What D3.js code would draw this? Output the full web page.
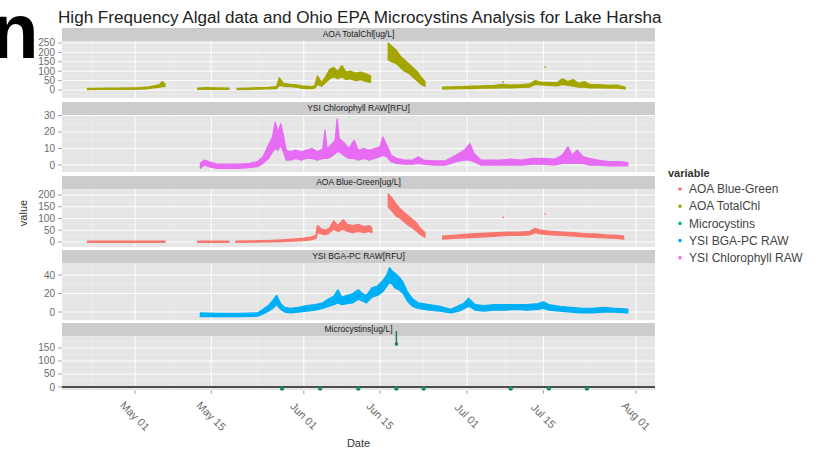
<!DOCTYPE html>
<html>
<head>
<meta charset="utf-8">
<script src="https://cdn.jsdelivr.net/npm/d3@7"></script>
<style>
  body { margin: 0; background: #fff; }
  text { font-family: "Liberation Sans", Arial, sans-serif; }
</style>
</head>
<body>
<svg id="chart"></svg>
<script>
// ----- Data -----
// each entry: [date, low, high] of the dense sensor band, null = gap in the record
let totalChl = [
  ['04-22 06', 2, 8], ['04-24 00', 3, 9], ['04-26 00', 3, 10], ['04-28 00', 4, 10], ['04-30 00', 4, 11],
  ['05-02 00', 5, 12], ['05-03 12', 8, 16], ['05-04 12', 12, 22], ['05-05 12', 15, 28], ['05-06 00', 18, 45],
  ['05-06 12', 20, 32], null,
  ['05-12 12', 3, 10], ['05-14 00', 4, 12], ['05-16 00', 3, 11], ['05-18 06', 4, 10], null,
  ['05-19 18', 2, 9], ['05-21 12', 3, 10], ['05-23 12', 5, 12], ['05-25 12', 6, 14], ['05-27 00', 8, 18],
  ['05-27 12', 25, 65], ['05-28 06', 20, 35], ['05-29 12', 18, 30], ['05-30 12', 15, 28], ['05-31 12', 10, 22],
  ['06-01 12', 8, 20], ['06-02 12', 8, 18], ['06-03 00', 10, 22], ['06-03 12', 30, 75], ['06-04 06', 20, 40],
  ['06-05 00', 40, 70], ['06-05 18', 60, 110], ['06-06 12', 70, 120], ['06-07 06', 60, 100], ['06-08 00', 70, 130],
  ['06-08 18', 55, 95], ['06-09 12', 60, 100], ['06-10 12', 50, 90], ['06-11 12', 55, 95], ['06-12 12', 45, 85],
  ['06-13 06', 40, 75], null,
  ['06-16 12', 160, 250], ['06-17 06', 150, 230], ['06-18 00', 140, 210], ['06-18 18', 120, 180], ['06-19 12', 100, 160],
  ['06-20 06', 90, 140], ['06-21 00', 70, 120], ['06-21 18', 50, 100], ['06-22 12', 30, 70], ['06-23 06', 20, 45], null,
  ['06-26 12', 5, 15], ['06-28 00', 6, 16], ['06-30 00', 7, 18], ['07-02 00', 8, 20], ['07-04 00', 10, 22],
  ['07-06 00', 10, 24], ['07-07 12', 12, 30], ['07-09 00', 12, 26], ['07-11 00', 14, 28], ['07-12 12', 16, 32],
  ['07-13 12', 30, 50], ['07-14 12', 28, 42], ['07-16 00', 25, 40], ['07-17 12', 22, 38], ['07-18 12', 30, 60],
  ['07-19 12', 25, 45], ['07-20 12', 20, 55], ['07-21 12', 15, 35], ['07-22 12', 15, 45], ['07-23 12', 12, 30],
  ['07-25 00', 12, 28], ['07-27 00', 10, 25], ['07-28 12', 12, 26], ['07-30 00', 5, 15]
]
let totalChlOutliers = [['07-07 14', 43], ['07-15 08', 122]]

let chlorophyll = [
  ['05-13 00', -2, 1], ['05-13 18', 0, 3], ['05-14 12', -1, 2], ['05-16 00', -2, 0.5], ['05-18 00', -2, 0.5],
  ['05-20 00', -2, 0.5], ['05-22 00', -1.5, 1], ['05-23 12', -1, 2], ['05-24 12', 1, 5], ['05-25 12', 4, 12],
  ['05-26 06', 8, 17], ['05-26 18', 10, 26], ['05-27 06', 9, 20], ['05-27 18', 12, 25], ['05-28 06', 8, 18],
  ['05-28 18', 3, 9], ['05-29 12', 3, 8], ['05-30 12', 4, 9], ['05-31 12', 3, 8], ['06-01 12', 4, 9],
  ['06-02 12', 4, 10], ['06-03 12', 3, 8], ['06-04 12', 4, 10], ['06-04 21', 4, 21], ['06-05 06', 4, 10],
  ['06-06 00', 5, 12], ['06-06 18', 7, 15], ['06-07 03', 8, 28], ['06-07 12', 8, 16], ['06-08 06', 6, 14],
  ['06-09 06', 4, 10], ['06-10 06', 4, 15], ['06-11 00', 3, 9], ['06-12 00', 4, 10], ['06-13 00', 3, 9],
  ['06-14 00', 4, 10], ['06-15 00', 5, 11], ['06-15 12', 6, 17], ['06-16 06', 5, 12], ['06-17 00', 2, 6],
  ['06-18 00', 1, 4], ['06-19 12', 0.5, 3], ['06-21 00', 0.5, 3], ['06-22 00', 1, 5], ['06-23 00', 0.5, 3],
  ['06-25 00', 0, 2.5], ['06-27 00', 0, 2.5], ['06-29 00', 2, 6], ['06-30 12', 3, 9], ['07-01 12', 3, 13],
  ['07-02 06', 2, 7], ['07-03 12', 0, 3], ['07-05 00', 0, 3], ['07-07 00', 0, 3], ['07-09 00', 0, 3.5],
  ['07-11 00', 0, 3], ['07-13 00', 0.5, 4], ['07-15 00', 0.5, 4], ['07-17 00', 0, 3.5], ['07-18 12', 1, 6],
  ['07-19 12', 1, 11], ['07-20 06', 1, 6], ['07-21 06', 1, 9], ['07-22 06', 1, 5], ['07-23 12', 0, 4],
  ['07-25 00', 0, 3], ['07-27 00', -0.5, 2], ['07-29 00', -0.5, 2], ['07-30 12', -0.5, 1.5]
]

let blueGreen = [
  ['04-22 06', -1, 4], ['04-26 00', -1, 4], ['04-30 00', -1, 4], ['05-04 00', -1, 4], ['05-06 12', -1, 4], null,
  ['05-12 12', -1, 4], ['05-15 00', -1, 4], ['05-18 06', -1, 4], null,
  ['05-19 12', -1, 4], ['05-23 00', 0, 5], ['05-26 00', 1, 7], ['05-28 00', 2, 9], ['05-30 00', 4, 12],
  ['06-01 00', 6, 16], ['06-02 12', 10, 22], ['06-03 06', 15, 28], ['06-03 12', 40, 70], ['06-04 06', 35, 55],
  ['06-05 00', 30, 50], ['06-05 18', 40, 60], ['06-06 12', 55, 90], ['06-07 06', 45, 70], ['06-08 06', 55, 95],
  ['06-09 00', 45, 75], ['06-10 00', 40, 70], ['06-11 00', 45, 75], ['06-12 00', 40, 65], ['06-13 00', 45, 70],
  ['06-13 12', 40, 60], null,
  ['06-16 12', 150, 205], ['06-17 06', 130, 185], ['06-18 00', 110, 160], ['06-18 18', 100, 140], ['06-19 12', 85, 125],
  ['06-20 06', 70, 110], ['06-21 00', 60, 95], ['06-21 18', 45, 80], ['06-22 12', 30, 55], ['06-23 06', 20, 40], null,
  ['06-26 12', 12, 25], ['06-28 12', 15, 28], ['06-30 12', 18, 32], ['07-02 12', 20, 35], ['07-04 12', 22, 38],
  ['07-06 12', 25, 40], ['07-08 12', 28, 42], ['07-10 12', 28, 42], ['07-12 12', 30, 45], ['07-13 12', 40, 58],
  ['07-14 12', 35, 50], ['07-16 12', 30, 45], ['07-18 12', 28, 42], ['07-20 12', 25, 40], ['07-22 12', 22, 36],
  ['07-24 12', 20, 34], ['07-26 12', 18, 30], ['07-28 12', 15, 28], ['07-29 18', 12, 25]
]
let blueGreenOutliers = [['07-07 14', 105], ['07-15 08', 120]]

let bgaPc = [
  ['05-13 00', -5, -1], ['05-16 00', -5, -1.5], ['05-20 00', -5, -1.5], ['05-23 12', -4.5, -1], ['05-24 12', -2, 3],
  ['05-25 12', 1, 7], ['05-26 12', 5, 14], ['05-27 00', 8, 18], ['05-27 18', 3, 9], ['05-28 12', 0, 5],
  ['05-29 12', -1, 4], ['05-31 00', 0, 5], ['06-01 12', 1, 7], ['06-03 00', 2, 8], ['06-04 12', 4, 10],
  ['06-05 12', 6, 14], ['06-06 12', 8, 17], ['06-07 06', 10, 24], ['06-08 00', 8, 16], ['06-09 00', 9, 18],
  ['06-10 00', 10, 20], ['06-11 00', 14, 24], ['06-11 18', 12, 20], ['06-12 12', 10, 18], ['06-13 12', 16, 26],
  ['06-14 12', 18, 28], ['06-15 12', 22, 34], ['06-16 06', 28, 40], ['06-16 18', 32, 48], ['06-17 06', 30, 44],
  ['06-17 18', 26, 42], ['06-18 12', 24, 38], ['06-19 06', 20, 32], ['06-20 00', 12, 22], ['06-21 00', 6, 14],
  ['06-22 00', 4, 10], ['06-24 00', 2, 8], ['06-26 00', 1, 6], ['06-28 00', -1, 3], ['06-29 12', 1, 7],
  ['06-30 12', 4, 10], ['07-01 06', 6, 15], ['07-01 18', 5, 12], ['07-02 12', 2, 8], ['07-04 00', 1, 7],
  ['07-06 00', 2, 8], ['07-08 00', 2, 8], ['07-10 00', 3, 8], ['07-12 00', 2, 8], ['07-14 00', 3, 9],
  ['07-15 00', 4, 11], ['07-16 00', 2, 8], ['07-18 00', 1, 6], ['07-20 00', 0, 5], ['07-22 00', -1, 4],
  ['07-24 00', -1, 4], ['07-26 00', 0, 5], ['07-28 00', 0, 4], ['07-30 12', -1, 3]
]

let microcystinDates = ['05-28 00', '06-04 00', '06-11 00', '06-18 00', '06-23 00', '07-09 00', '07-16 00', '07-23 00']
let microcystinValues = [0, 0, 0, 0, 0, 0, 0, 0]
let microcystinHigh = [['06-18 00', 165], ['06-18 00', 215]]

let variables = ['AOA Blue-Green', 'AOA TotalChl', 'Microcystins', 'YSI BGA-PC RAW', 'YSI Chlorophyll RAW']
let varColors = ['#F8766D', '#A3A500', '#00BF7D', '#00B0F6', '#E76BF3']

let xTickDates = ['05-01 00', '05-15 00', '06-01 00', '06-15 00', '07-01 00', '07-15 00', '08-01 00']
let xTickLabels = ['May 01', 'May 15', 'Jun 01', 'Jun 15', 'Jul 01', 'Jul 15', 'Aug 01']
let xMinorDates = ['04-23 00', '05-08 00', '05-23 12', '06-08 00', '06-23 00', '07-08 00', '07-23 12']

let totalChlTicks = [0, 50, 100, 150, 200, 250]
let chlorophyllTicks = [0, 10, 20, 30]
let blueGreenTicks = [0, 50, 100, 150, 200]
let bgaTicks = [0, 20, 40]
let microTicks = [0, 50, 100, 150]

// ----- SVG -----
let svgWidth = 816
let svgHeight = 451
let svg = d3.select('#chart')
            .attr('width', svgWidth)
            .attr('height', svgHeight)

let parseDate = function (s) { return d3.timeParse('%Y-%m-%d %H')('2014-' + s) }

let panelLeft = 62
let panelRight = 655
let x = d3.scaleTime()
          .domain([parseDate('04-17 14'), parseDate('08-04 12')])
          .range([panelLeft, panelRight])

// facets, top to bottom
let facets = [
  {label: 'AOA TotalChl[ug/L]', band: totalChl, color: varColors[1], ticks: totalChlTicks, strip: 28, top: 41, bottom: 98, domain: [-42.6, 260.6]},
  {label: 'YSI Chlorophyll RAW[RFU]', band: chlorophyll, color: varColors[4], ticks: chlorophyllTicks, strip: 102, top: 115, bottom: 172, domain: [-4.24, 30.3]},
  {label: 'AOA Blue-Green[ug/L]', band: blueGreen, color: varColors[0], ticks: blueGreenTicks, strip: 176, top: 189, bottom: 247, domain: [-21.3, 225.5]},
  {label: 'YSI BGA-PC RAW[RFU]', band: bgaPc, color: varColors[3], ticks: bgaTicks, strip: 250, top: 263, bottom: 320, domain: [-8.6, 53]},
  {label: 'Microcystins[ug/L]', band: null, color: varColors[2], ticks: microTicks, strip: 323, top: 336, bottom: 390, domain: [-11.5, 196]}
]

let defs = svg.append('defs')

facets.forEach(function (f, i) {
  let y = d3.scaleLinear().domain(f.domain).range([f.bottom, f.top])
  f.y = y
  let g = svg.append('g')

  // panel background
  g.append('rect')
   .attr('x', panelLeft).attr('y', f.top)
   .attr('width', panelRight - panelLeft).attr('height', f.bottom - f.top)
   .attr('fill', '#E5E5E5')

  // minor grid
  let step = f.ticks[1] - f.ticks[0]
  let minorY = d3.range(f.ticks[0] - step / 2, f.domain[1], step).filter(v => v > f.domain[0] && v < f.domain[1])
  g.selectAll('.minorY').data(minorY).enter().append('line')
   .attr('x1', panelLeft).attr('x2', panelRight)
   .attr('y1', d => y(d)).attr('y2', d => y(d))
   .attr('stroke', '#F2F2F2').attr('stroke-width', 0.5)
  g.selectAll('.minorX').data(xMinorDates).enter().append('line')
   .attr('x1', d => x(parseDate(d))).attr('x2', d => x(parseDate(d)))
   .attr('y1', f.top).attr('y2', f.bottom)
   .attr('stroke', '#F2F2F2').attr('stroke-width', 0.5)

  // major grid
  g.selectAll('.majorY').data(f.ticks).enter().append('line')
   .attr('x1', panelLeft).attr('x2', panelRight)
   .attr('y1', d => y(d)).attr('y2', d => y(d))
   .attr('stroke', '#fff').attr('stroke-width', 1)
  g.selectAll('.majorX').data(xTickDates).enter().append('line')
   .attr('x1', d => x(parseDate(d))).attr('x2', d => x(parseDate(d)))
   .attr('y1', f.top).attr('y2', f.bottom)
   .attr('stroke', '#fff').attr('stroke-width', 1)

  // clip for the data
  defs.append('clipPath').attr('id', 'clip' + i)
      .append('rect')
      .attr('x', panelLeft).attr('y', f.top)
      .attr('width', panelRight - panelLeft).attr('height', f.bottom - f.top)

  if (f.band) {
    let area = d3.area()
                 .defined(d => d !== null)
                 .x(d => x(parseDate(d[0])))
                 .y0(d => y(d[1]))
                 .y1(d => y(d[2]))
    g.append('path')
     .attr('clip-path', 'url(#clip' + i + ')')
     .attr('d', area(f.band))
     .attr('fill', f.color)
     .attr('stroke', f.color)
     .attr('stroke-width', 1.3)
     .attr('stroke-linejoin', 'round')
  }

  // y axis ticks + labels
  g.selectAll('.ytick').data(f.ticks).enter().append('line')
   .attr('x1', panelLeft - 4).attr('x2', panelLeft)
   .attr('y1', d => y(d)).attr('y2', d => y(d))
   .attr('stroke', '#7F7F7F').attr('stroke-width', 0.7)
  g.selectAll('.ylab').data(f.ticks).enter().append('text')
   .attr('x', panelLeft - 7)
   .attr('y', d => y(d))
   .attr('dy', '0.35em')
   .attr('text-anchor', 'end')
   .attr('font-size', '10px')
   .attr('fill', '#6b6b6b')
   .text(d => d)

  // strip
  g.append('rect')
   .attr('x', panelLeft).attr('y', f.strip)
   .attr('width', panelRight - panelLeft).attr('height', f.top - f.strip)
   .attr('fill', '#CCCCCC')
  g.append('text')
   .attr('x', (panelLeft + panelRight) / 2)
   .attr('y', (f.strip + f.top) / 2)
   .attr('dy', '0.35em')
   .attr('text-anchor', 'middle')
   .attr('font-size', '8.5px')
   .attr('fill', '#1a1a1a')
   .text(f.label)
})

// outliers
let fTot = facets[0], fBg = facets[2], fMic = facets[4]
svg.selectAll('.totOut').data(totalChlOutliers).enter().append('circle')
   .attr('cx', d => x(parseDate(d[0]))).attr('cy', d => fTot.y(d[1]))
   .attr('r', 0.9).attr('fill', varColors[1])
svg.selectAll('.bgOut').data(blueGreenOutliers).enter().append('circle')
   .attr('cx', d => x(parseDate(d[0]))).attr('cy', d => fBg.y(d[1]))
   .attr('r', 0.9).attr('fill', varColors[0])

// microcystins: baseline rule, samples, the one high sample
svg.append('line')
   .attr('x1', panelLeft).attr('x2', panelRight)
   .attr('y1', fMic.y(0)).attr('y2', fMic.y(0))
   .attr('stroke', '#4d4d4d').attr('stroke-width', 2)
svg.append('path')
   .attr('d', d3.line().x(d => x(parseDate(d[0]))).y(d => fMic.y(d[1]))(microcystinHigh))
   .attr('stroke', '#1f7a55').attr('stroke-width', 1.5)
svg.append('circle')
   .attr('cx', x(parseDate(microcystinHigh[0][0]))).attr('cy', fMic.y(microcystinHigh[0][1]))
   .attr('r', 1.8).attr('fill', '#1f7a55')
svg.selectAll('.mic').data(microcystinDates).enter().append('circle')
   .attr('cx', d => x(parseDate(d)))
   .attr('cy', (d, i) => fMic.y(microcystinValues[i]) + 1.5)
   .attr('r', 2.2)
   .attr('fill', '#1f8a5e')

// x axis
svg.selectAll('.xtick').data(xTickDates).enter().append('line')
   .attr('x1', d => x(parseDate(d))).attr('x2', d => x(parseDate(d)))
   .attr('y1', fMic.bottom).attr('y2', fMic.bottom + 4)
   .attr('stroke', '#7F7F7F').attr('stroke-width', 0.7)
svg.selectAll('.xlab').data(xTickDates).enter().append('text')
   .attr('transform', d => 'translate(' + x(parseDate(d)) + ',416) rotate(45)')
   .attr('text-anchor', 'middle')
   .attr('dy', '0.35em')
   .attr('font-size', '11px')
   .attr('fill', '#6b6b6b')
   .text((d, i) => xTickLabels[i])

svg.append('text')
   .attr('x', (panelLeft + panelRight) / 2).attr('y', 447)
   .attr('text-anchor', 'middle')
   .attr('font-size', '11px')
   .attr('fill', '#333')
   .text('Date')

svg.append('text')
   .attr('transform', 'translate(27,213) rotate(-90)')
   .attr('text-anchor', 'middle')
   .attr('font-size', '11px')
   .attr('fill', '#333')
   .text('value')

// title
let title = svg.append('text')
   .attr('x', 58).attr('y', 23)
   .attr('font-size', '16px')
   .attr('fill', '#222')
   .text('High Frequency Algal data and Ohio EPA Microcystins Analysis for Lake Harsha')
let tLen = title.node().getComputedTextLength()
title.attr('font-size', (16 * 604 / tLen) + 'px')

// stray slide letter at top left
svg.append('text')
   .attr('x', -9).attr('y', 58)
   .attr('font-size', '78px')
   .attr('font-weight', 'bold')
   .attr('fill', '#000')
   .text('n')

// legend
let legend = svg.append('g')
legend.append('text')
      .attr('x', 668).attr('y', 177)
      .attr('font-size', '11px')
      .attr('font-weight', 'bold')
      .attr('fill', '#333')
      .text('variable')
legend.selectAll('circle').data(variables).enter().append('circle')
      .attr('cx', 680).attr('cy', (d, i) => 189 + i * 17.2)
      .attr('r', 1.8)
      .attr('fill', (d, i) => varColors[i])
legend.selectAll('.legtext').data(variables).enter().append('text')
      .attr('x', 689).attr('y', (d, i) => 189 + i * 17.2)
      .attr('dy', '0.35em')
      .attr('font-size', '12px')
      .attr('fill', '#444')
      .text(d => d)
</script>
</body>
</html>
